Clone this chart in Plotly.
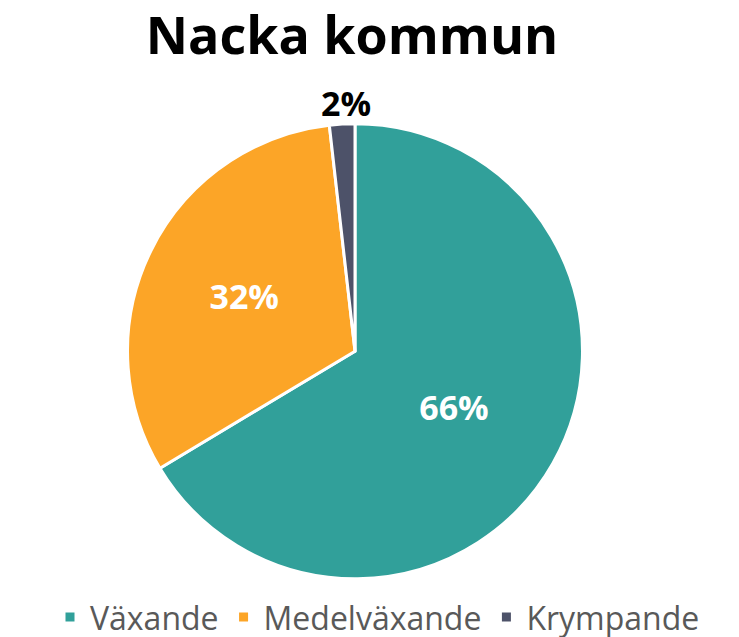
import math
import plotly.graph_objects as go

labels = ["Växande", "Medelväxande", "Krympande"]
values = [66.4, 31.8, 1.8]
colors = ["#31A09A", "#FCA527", "#4D5269"]
text_colors = ["#FFFFFF", "#FFFFFF", "#000000"]
positions = ["inside", "inside", "none"]

W, H = 739, 637
cx, cy, r = 347, 347, 230

total = sum(values)
pcts = [v / total for v in values]

fig = go.Figure(go.Pie(
    labels=labels,
    values=values,
    sort=False,
    direction="clockwise",
    rotation=0,
    marker=dict(colors=colors, line=dict(color="#FFFFFF", width=3)),
    texttemplate="%{percent:.0%}",
    textposition=positions,
    insidetextorientation="horizontal",
    textfont=dict(family="Open Sans", size=34, color=text_colors, weight="bold"),
    domain=dict(x=[(cx - r) / W, (cx + r) / W], y=[1 - (cy + r) / H, 1 - (cy - r) / H]),
    hoverinfo="label+percent",
))

# outside label for the small slice, placed radially at its mid angle
start = sum(pcts[:2])
mid = (start + pcts[2] / 2) * 2 * math.pi
pie_cx, pie_cy, pie_r = 352, 350, 225
lab_dist = pie_r + 29
fig.add_annotation(
    text=f"<b>{round(pcts[2] * 100)}%</b>",
    x=(pie_cx + lab_dist * math.sin(mid)) / W,
    y=1 - (pie_cy - lab_dist * math.cos(mid)) / H,
    xref="paper", yref="paper", xanchor="center", yanchor="middle",
    showarrow=False,
    font=dict(family="Open Sans", size=34, color="#000000"),
)

fig.update_layout(
    width=W, height=H,
    margin=dict(l=0, r=0, t=0, b=0),
    paper_bgcolor="white",
    plot_bgcolor="white",
    title=dict(text="<b>Nacka kommun</b>", x=344 / W, xanchor="center",
               y=1 - 28 / H, yanchor="middle", yref="container",
               font=dict(family="Open Sans", size=52, color="#000000")),
    legend=dict(orientation="h", x=0.5, xanchor="center", y=1 - 616 / H, yanchor="middle",
                font=dict(family="Open Sans", size=32, color="#595959"),
                itemwidth=30, traceorder="normal"),
    showlegend=True,
)

fig.write_html("out.html")
